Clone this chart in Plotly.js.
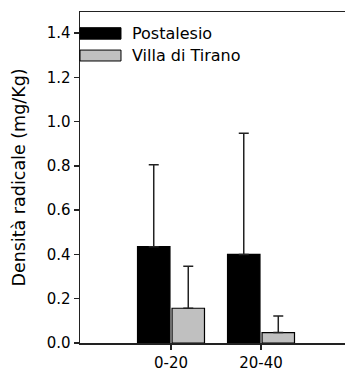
<!DOCTYPE html>
<html>
<head>
<meta charset="utf-8">
<script src="https://cdn.plot.ly/plotly-3.0.1.min.js"></script>
<style>
  html, body { margin: 0; padding: 0; background: #fff; overflow: hidden; }
  #chart { width: 345px; height: 375px; }
</style>
</head>
<body>
<div id="chart"></div>
<script>
// Soil depth classes (cm)
const depths = ["0-20", "20-40"];

// Root density, mean and upper error, per site
const postalesio = [0.435, 0.40];
const postalesioErr = [0.37, 0.547];
const villaDiTirano = [0.157, 0.047];
const villaDiTiranoErr = [0.19, 0.075];

const seriesNames = ["Postalesio", "Villa di Tirano"];
const yTickValues = [0, 0.2, 0.4, 0.6, 0.8, 1.0, 1.2, 1.4];

const FONT = "DejaVu Sans, Arial, sans-serif";
const INK = "#000";

function barTrace(name, y, err, fill) {
  return {
    type: "bar",
    name: name,
    x: depths,
    y: y,
    marker: { color: fill, line: { color: INK, width: 1.2 } },
    error_y: {
      type: "data",
      symmetric: false,
      array: err,
      arrayminus: y.map(() => 0),
      color: "#222",
      thickness: 1.5,
      width: 5
    },
    showlegend: false,
    hoverinfo: "skip"
  };
}

const traces = [
  barTrace(seriesNames[0], postalesio, postalesioErr, "#000000"),
  barTrace(seriesNames[1], villaDiTirano, villaDiTiranoErr, "#c0c0c0")
];

// Key in the upper-left corner: long swatches with labels
const swatchFills = ["#000000", "#c0c0c0"];
const swatchY = [[0.918, 0.9526], [0.852, 0.885]];
const shapes = swatchFills.map((fill, i) => ({
  type: "rect", xref: "paper", yref: "paper",
  x0: 0, x1: 0.1547, y0: swatchY[i][0], y1: swatchY[i][1],
  fillcolor: fill, line: { color: INK, width: 1 }, layer: "above"
}));
const labelY = [0.935, 0.8686];
const annotations = seriesNames.map((name, i) => ({
  xref: "paper", yref: "paper", x: 0.19, y: labelY[i],
  xanchor: "left", yanchor: "middle", showarrow: false,
  text: name, font: { family: FONT, size: 16, color: INK }
}));

const layout = {
  width: 345,
  height: 375,
  margin: { l: 80, r: 0, t: 12, b: 32 },
  paper_bgcolor: "#fff",
  plot_bgcolor: "#fff",
  barmode: "group",
  bargap: 0.233,
  bargroupgap: 0.06,
  font: { family: FONT, size: 15, color: INK },
  xaxis: {
    type: "category",
    range: [-1.011, 1.933],
    showline: true, mirror: true, linecolor: "#222", linewidth: 1.5,
    ticks: "outside", ticklen: 5, tickwidth: 1.5, tickcolor: "#222",
    showgrid: false, zeroline: false,
    tickfont: { family: FONT, size: 15, color: INK }
  },
  yaxis: {
    range: [0, 1.495],
    tickvals: yTickValues,
    tickformat: ".1f",
    showline: true, linecolor: "#222", linewidth: 1.5,
    ticks: "outside", ticklen: 5, tickwidth: 1.5, tickcolor: "#222",
    showgrid: false, zeroline: false,
    tickfont: { family: FONT, size: 15, color: INK },
    title: {
      text: "Densità radicale (mg/Kg)",
      font: { family: FONT, size: 17.5, color: INK },
      standoff: 16
    }
  },
  shapes: shapes,
  annotations: annotations
};

Plotly.newPlot("chart", traces, layout, { staticPlot: true, displayModeBar: false });
</script>
</body>
</html>
